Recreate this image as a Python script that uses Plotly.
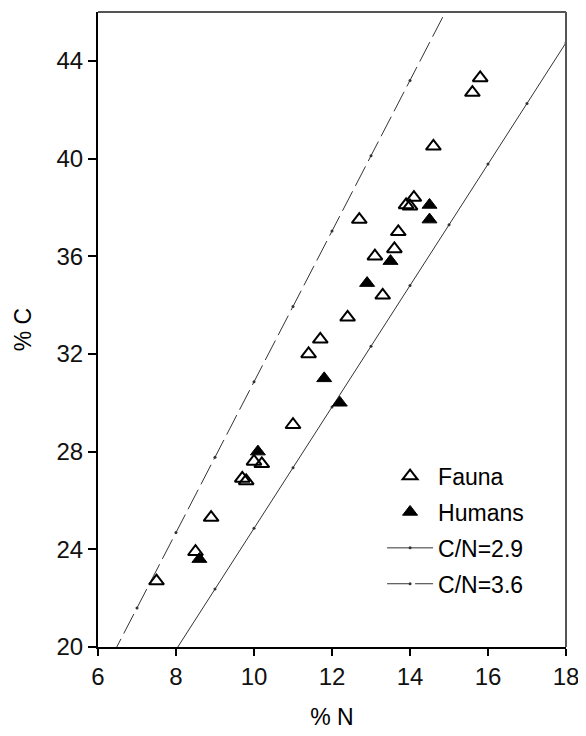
import plotly.graph_objects as go

# Fauna (% N, % C)
fauna_n = [7.5, 8.5, 8.9, 9.7, 9.8, 10.0, 10.2, 11.0, 11.4, 11.7, 12.4, 13.3,
           13.1, 13.6, 13.7, 12.7, 13.9, 14.0, 14.1, 14.6, 15.6, 15.8]
fauna_c = [22.7, 23.9, 25.3, 26.9, 26.8, 27.6, 27.5, 29.1, 32.0, 32.6, 33.5, 34.4,
           36.0, 36.3, 37.0, 37.5, 38.1, 38.05, 38.4, 40.5, 42.7, 43.3]

# Humans (% N, % C)
human_n = [8.6, 10.1, 11.8, 12.2, 12.9, 13.5, 14.5, 14.5]
human_c = [23.6, 28.0, 31.0, 30.0, 34.9, 35.8, 38.1, 37.5]

# Reference C/N atomic ratio lines
ratio_low = 2.9
ratio_high = 3.6
line_low_n = [8, 9, 10, 11, 12, 13, 14, 15, 16, 17, 18]
line_high_n = [6, 7, 8, 9, 10, 11, 12, 13, 14, 15]
mass_factor = 12.0 / 14.0
line_low_c = [ratio_low * mass_factor * n for n in line_low_n]
line_high_c = [ratio_high * mass_factor * n for n in line_high_n]

x_ticks = [6, 8, 10, 12, 14, 16, 18]
y_ticks = [20, 24, 28, 32, 36, 40, 44]

FONT = "Liberation Sans, Arial, sans-serif"

fig = go.Figure()

fig.add_trace(go.Scatter(
    x=line_low_n, y=line_low_c, mode="lines+markers", name="C/N=2.9",
    line=dict(color="#333333", width=1),
    marker=dict(size=3, color="#333333"),
    legendgroup="c", legendrank=3,
))
fig.add_trace(go.Scatter(
    x=line_high_n, y=line_high_c, mode="lines+markers", name="C/N=3.6",
    line=dict(color="#333333", width=1, dash="22px,6px"),
    marker=dict(size=3, color="#333333"),
    legendgroup="d", legendrank=4,
))
fig.add_trace(go.Scatter(
    x=fauna_n, y=fauna_c, mode="markers", name="Fauna",
    marker=dict(symbol="triangle-up-open", size=13, color="black",
                line=dict(width=2, color="black")),
    legendgroup="a", legendrank=1,
))
fig.add_trace(go.Scatter(
    x=human_n, y=human_c, mode="markers", name="Humans",
    marker=dict(symbol="triangle-up", size=13, color="black",
                line=dict(width=1, color="black")),
    legendgroup="b", legendrank=2,
))

fig.update_layout(
    width=578, height=724,
    margin=dict(l=90, r=20, t=4, b=85),
    paper_bgcolor="white", plot_bgcolor="white",
    font=dict(family=FONT, size=23, color="black"),
    showlegend=True,
    legend=dict(
        x=0.607, y=0.303, xanchor="left", yanchor="top",
        bgcolor="rgba(0,0,0,0)", borderwidth=0,
        font=dict(size=23, family=FONT, color="black"),
        itemwidth=46, tracegroupgap=3,
        traceorder="grouped",
    ),
    xaxis=dict(
        range=[6, 18], tickvals=x_ticks, ticktext=[str(v) for v in x_ticks],
        showgrid=False, zeroline=False,
        showline=True, linecolor="black", linewidth=2,
        ticks="outside", ticklen=7, tickwidth=1.5, tickcolor="black",
        tickfont=dict(size=24, family=FONT, color="#111"),
        title=dict(text="% N", font=dict(size=23, family=FONT), standoff=20),
    ),
    yaxis=dict(
        range=[20, 46], tickvals=y_ticks, ticktext=[str(v) for v in y_ticks],
        showgrid=False, zeroline=False,
        showline=True, linecolor="black", linewidth=2,
        ticks="outside", ticklen=8, tickwidth=1.5, tickcolor="black",
        tickfont=dict(size=24, family=FONT, color="#111"),
        title=dict(text="% C", font=dict(size=23, family=FONT), standoff=18),
    ),
    shapes=[
        dict(type="line", xref="paper", yref="paper", x0=0, x1=1, y0=1, y1=1,
             line=dict(color="#555555", width=2)),
        dict(type="line", xref="paper", yref="paper", x0=1, x1=1, y0=0, y1=1,
             line=dict(color="#555555", width=2)),
    ],
)

fig.write_html("out.html")
